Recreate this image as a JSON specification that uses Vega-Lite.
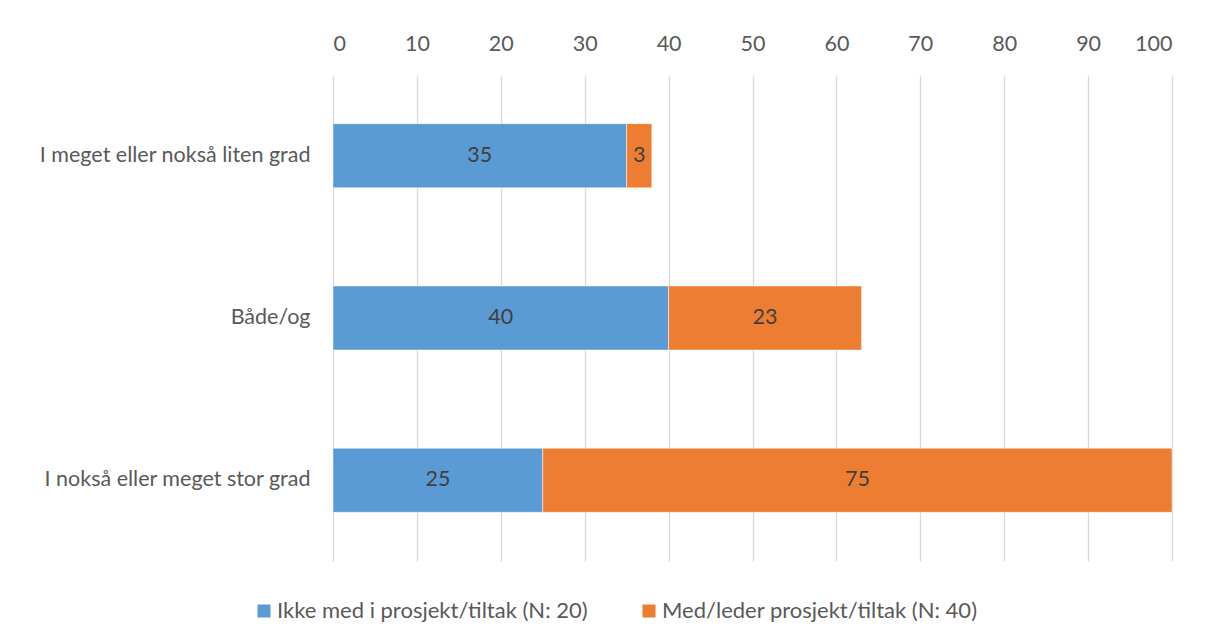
{
  "$schema": "https://vega.github.io/schema/vega-lite/v6.json",
  "width": 839,
  "height": 486,
  "autosize": {"type": "none"},
  "padding": {"left": 333, "top": 75, "right": 37, "bottom": 82},
  "background": "white",
  "config": {
    "font": "Lato",
    "view": {"stroke": null},
    "axis": {"labelFont": "Lato", "labelColor": "#595959", "labelFontSize": 21.5, "labelLimit": 0}
  },
  "data": {"values": [
    {"cat": "I meget eller nokså liten grad", "grp": "Ikke med i prosjekt/tiltak (N: 20)", "o": 1, "v": 35},
    {"cat": "I meget eller nokså liten grad", "grp": "Med/leder prosjekt/tiltak (N: 40)", "o": 2, "v": 3},
    {"cat": "Både/og", "grp": "Ikke med i prosjekt/tiltak (N: 20)", "o": 1, "v": 40},
    {"cat": "Både/og", "grp": "Med/leder prosjekt/tiltak (N: 40)", "o": 2, "v": 23},
    {"cat": "I nokså eller meget stor grad", "grp": "Ikke med i prosjekt/tiltak (N: 20)", "o": 1, "v": 25},
    {"cat": "I nokså eller meget stor grad", "grp": "Med/leder prosjekt/tiltak (N: 40)", "o": 2, "v": 75}
  ]},
  "encoding": {
    "y": {
      "field": "cat", "type": "nominal", "sort": null, "title": null,
      "scale": {"paddingInner": 0.605, "paddingOuter": 0.3},
      "axis": {"domain": false, "ticks": false, "labelPadding": 23, "grid": false}
    }
  },
  "layer": [
    {
      "mark": {"type": "bar", "stroke": "white", "strokeWidth": 0.5},
      "encoding": {
        "x": {
          "field": "v", "type": "quantitative", "stack": "zero", "title": null,
          "scale": {"domain": [0, 100], "nice": false},
          "axis": {"orient": "top", "values": [0,10,20,30,40,50,60,70,80,90,100], "domain": false, "ticks": false, "grid": true, "gridColor": "#d9d9d9", "gridWidth": 1.3, "labelPadding": 20}
        },
        "color": {
          "field": "grp", "type": "nominal", "title": null,
          "scale": {"range": ["#5B9BD5", "#ED7D31"]},
          "legend": {"orient": "none", "direction": "horizontal", "legendX": -80, "legendY": 525, "symbolType": "square", "symbolSize": 170, "symbolStrokeWidth": 0, "labelFontSize": 22, "labelColor": "#595959", "labelFont": "Lato", "labelLimit": 0, "columnPadding": 50, "labelOffset": 2}
        },
        "order": {"field": "o", "type": "quantitative"}
      }
    },
    {
      "transform": [
        {"stack": "v", "groupby": ["cat"], "sort": [{"field": "o"}], "as": ["v0", "v1"]},
        {"calculate": "(datum.v0 + datum.v1) / 2", "as": "mid"}
      ],
      "mark": {"type": "text", "fontSize": 21.5, "color": "#404040", "font": "Lato"},
      "encoding": {
        "x": {"field": "mid", "type": "quantitative"},
        "text": {"field": "v", "type": "quantitative"}
      }
    }
  ]
}
